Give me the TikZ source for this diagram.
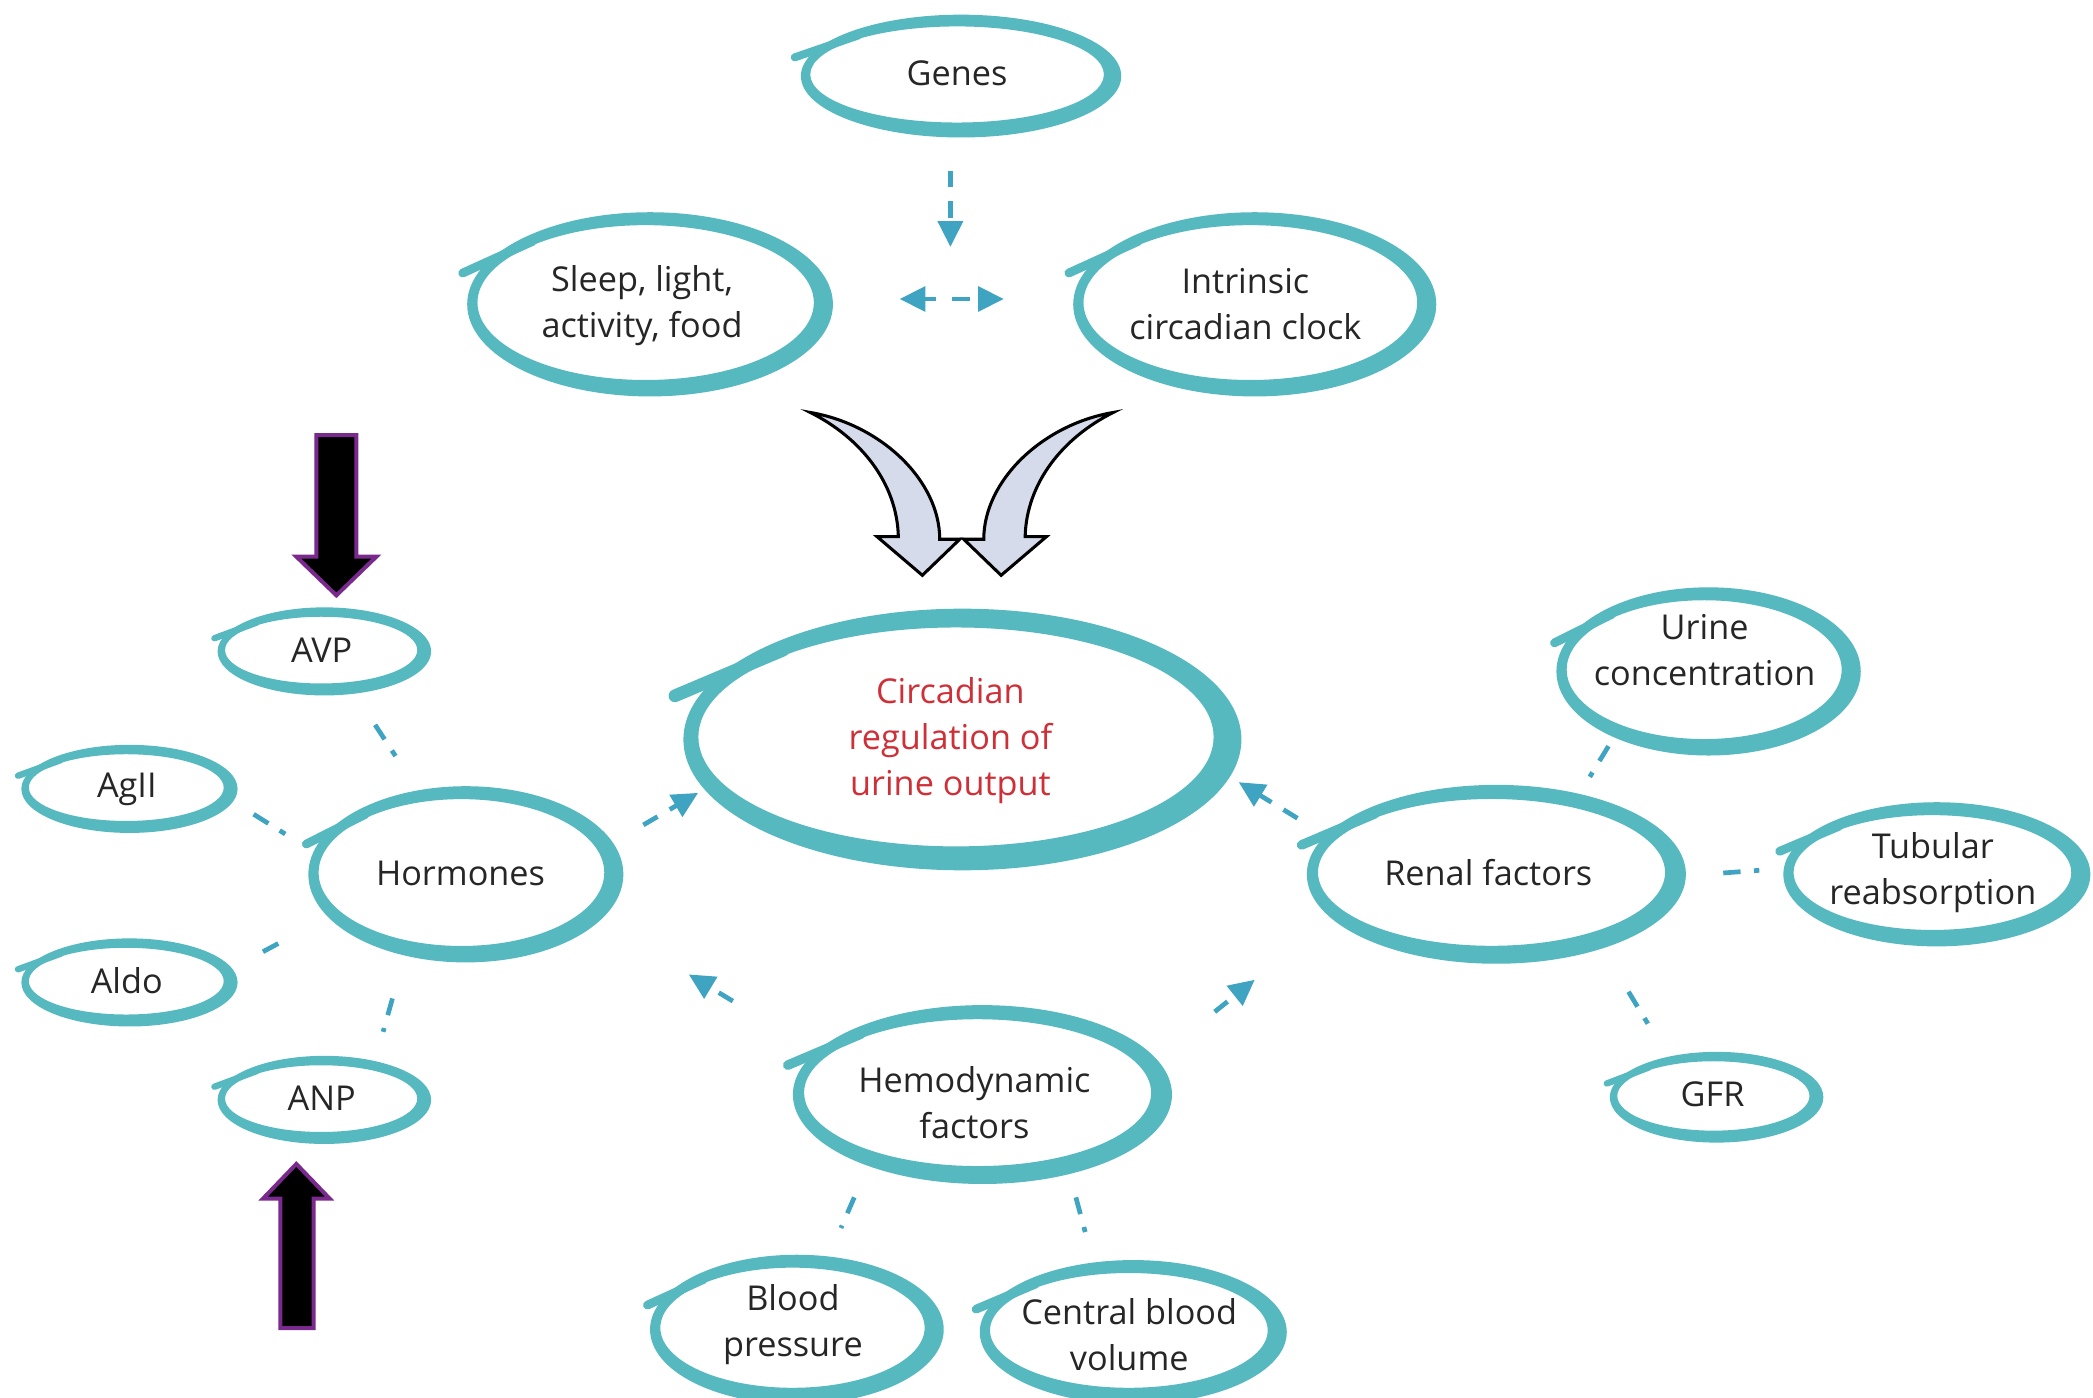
\documentclass[tikz,border=0pt]{standalone}
\usepackage{fontspec}
\setmainfont{Open Sans}
\usetikzlibrary{calc,arrows.meta}

\definecolor{ringc}{HTML}{57B9C0}
\definecolor{arrc}{HTML}{3FA4C2}
\definecolor{redtxt}{HTML}{CF3038}
\definecolor{txtc}{HTML}{262626}
\definecolor{curvefill}{HTML}{D5DBEA}
\definecolor{blockedge}{HTML}{7A2A8C}

% hand-drawn looking ring: centre (#1,#2 downward), radii #3,#4, stroke #5
\newcommand\ringat[5]{%
  \pgfmathsetmacro\rgPx{#1+(#3-0.5*#5)*cos(132)}%
  \pgfmathsetmacro\rgPy{-#2+(#4-0.5*#5)*sin(132)}%
  \pgfmathsetmacro\rgTx{-#3*sin(132)}%
  \pgfmathsetmacro\rgTy{#4*cos(132)}%
  \pgfmathsetmacro\rgTn{veclen(\rgTx,\rgTy)}%
  \pgfmathsetmacro\rgQx{\rgPx+0.42*#3*\rgTx/\rgTn}%
  \pgfmathsetmacro\rgQy{\rgPy+0.42*#3*\rgTy/\rgTn}%
  \pgfmathsetmacro\rgLw{0.6*#5*0.5669}%
  \fill[ringc, even odd rule] (#1,-#2) ellipse [x radius=#3, y radius=#4]
     ({#1-0.3*#5},{-#2+0.12*#5}) ellipse [x radius={#3-#5}, y radius={#4-#5}];
  \draw[ringc, line width=\rgLw pt, line cap=round] (\rgQx,\rgQy) -- (\rgPx,\rgPy);
}

\begin{document}
\begin{tikzpicture}[x=0.02cm, y=0.02cm,
  lbl/.style={font=\fontsize{14.6}{19.6}\selectfont, text=txtc, align=center, inner sep=0pt},
  tip/.style={-{Triangle[length=11pt,width=10.5pt]}},
  flow/.style={draw=arrc, line width=2pt, dash pattern=on 7pt off 6pt, tip},
  link/.style={draw=arrc, line width=2pt, dash pattern=on 7.4pt off 5.7pt on 2.8pt off 60pt},
  curvearrow/.style={fill=curvefill, draw=black, line width=1.3pt, line join=miter},
  blockarrow/.style={fill=black, draw=blockedge, line width=1.7pt, line join=miter}]

\useasboundingbox (0,0) rectangle (1568,-1047);
\clip (0,0) rectangle (1568,-1047);
\fill[white] (0,0) rectangle (1568,-1047);

% rings
\ringat{720}{57}{120}{46}{10}
\ringat{487}{228}{137}{69}{11}
\ringat{940}{228}{136}{69}{11}
\ringat{721}{554}{209}{98}{16}
\ringat{243}{488}{80}{33}{8}
\ringat{97}{591}{81}{33}{8}
\ringat{349}{655}{118}{66}{11}
\ringat{97}{736}{81}{33}{8}
\ringat{243}{824}{80}{33}{8}
\ringat{736}{820}{142}{67}{12}
\ringat{597}{996}{110}{56}{11}
\ringat{849}{998}{115}{54}{11}
\ringat{1280}{503}{114}{63}{11}
\ringat{1121}{655}{142}{67}{12}
\ringat{1451}{655}{115}{54}{11}
\ringat{1286}{822}{80}{34}{8}

% labels
\node[lbl] (genes) at (717,-55) {Genes};
\node[lbl] (sleep) at (481,-229) {Sleep, light,\\activity, food};
\node[lbl] (clock) at (933,-228) {Intrinsic\\circadian clock};
\node[lbl, text=redtxt] (cent) at (712,-555) {Circadian\\regulation of\\urine output};
\node[lbl] (avp) at (241,-487) {AVP};
\node[lbl] (agii) at (95,-591) {AgII};
\node[lbl] (horm) at (345,-654) {Hormones};
\node[lbl] (aldo) at (95,-735) {Aldo};
\node[lbl] (anp) at (241,-823) {ANP};
\node[lbl] (hemo) at (730,-826) {Hemodynamic\\factors};
\node[lbl] (bp) at (594,-992) {Blood\\pressure};
\node[lbl] (cbv) at (846,-1000) {Central blood\\volume};
\node[lbl] (urine) at (1277,-487) {Urine\\concentration};
\node[lbl] (renal) at (1115,-654) {Renal factors};
\node[lbl] (tub) at (1448,-654) {Tubular\\reabsorption};
\node[lbl] (gfr) at (1283,-820) {GFR};
\coordinate (hub) at (712,-224);

% dashed arrows
\draw[flow] ($(horm)+(137,36)$) -- ($(cent)+(-189,-39)$);
\draw[flow] ($(renal)+(-143,41)$) -- ($(cent)+(216,-31)$);
\draw[flow] ($(hemo)+(-181,76)$) -- ($(cent)+(-196,-175)$);
\draw[flow] ($(hemo)+(180,68)$) -- ($(renal)+(-175,-80)$);
\draw[flow] ($(genes)+(-5,-73)$) -- ($(hub)+(0,39)$);
\draw[flow, {Triangle[length=11pt,width=10.5pt]}-{Triangle[length=11pt,width=10.5pt]},
      dash pattern=on 5pt off 6.8pt on 7.5pt off 20pt]
  ($(sleep)+(193,5)$) -- ($(clock)+(-181,4)$);

% dash-dot links
\draw[link] ($(avp)+(40,-56)$) -- ($(horm)+(-47,85)$);
\draw[link] ($(agii)+(95,-19)$) -- ($(horm)+(-131,29)$);
\draw[link] ($(aldo)+(102,22)$) -- ($(horm)+(-135,-52)$);
\draw[link] ($(horm)+(-51,-94)$) -- ($(anp)+(46,50)$);
\draw[link] ($(hemo)+(-90,-71)$) -- ($(bp)+(36,72)$);
\draw[link] ($(hemo)+(76,-71)$) -- ($(cbv)+(-33,77)$);
\draw[link] ($(urine)+(-72,-72)$) -- ($(renal)+(76,72)$);
\draw[link] ($(renal)+(176,0)$) -- ($(tub)+(-130,2)$);
\draw[link] ($(renal)+(105,-89)$) -- ($(gfr)+(-46,49)$);

% curved block arrows
\draw[curvearrow] (607,-309) .. controls (660,-318) and (704,-360) .. (704,-404)
  -- (719,-404) -- (691,-431) -- (657,-402) -- (673,-402)
  .. controls (672,-362) and (645,-328) .. (607,-309) -- cycle;
\draw[curvearrow] (834,-309) .. controls (781,-318) and (737,-360) .. (737,-404)
  -- (722,-404) -- (750,-431) -- (784,-402) -- (768,-402)
  .. controls (769,-362) and (796,-328) .. (834,-309) -- cycle;

% black block arrows
\draw[blockarrow] (237,-326) -- (267,-326) -- (267,-417) -- (282,-417) -- (252,-446)
  -- (222,-417) -- (237,-417) -- cycle;
\draw[blockarrow] (210,-995) -- (235,-995) -- (235,-898) -- (247,-898) -- (222,-872)
  -- (197,-898) -- (210,-898) -- cycle;
\end{tikzpicture}
\end{document}
